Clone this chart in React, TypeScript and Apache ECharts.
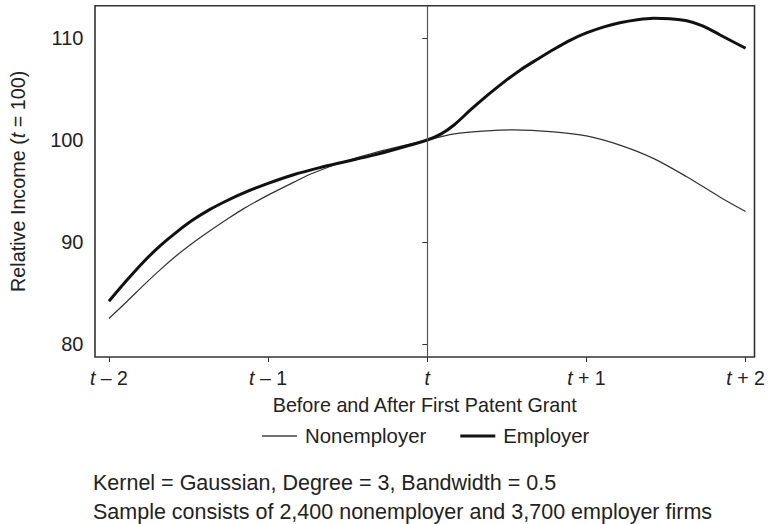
import React, { useEffect, useRef } from "react";
import * as echarts from "echarts";

const xTicks = [-2, -1, 0, 1, 2];
const yTicks = [80, 90, 100, 110];

const employer: [number, number][] = [
  [-2.0, 84.2], [-1.885, 86.3], [-1.78, 88.1], [-1.677, 89.65], [-1.573, 91.0],
  [-1.469, 92.2], [-1.365, 93.2], [-1.26, 94.05], [-1.156, 94.8], [-1.0, 95.75],
  [-0.84, 96.6], [-0.675, 97.3], [-0.51, 97.9], [-0.344, 98.5], [-0.177, 99.2],
  [0, 100], [0.0875, 100.6], [0.17, 101.5], [0.275, 103.0], [0.379, 104.4],
  [0.483, 105.7], [0.588, 106.9], [0.69, 107.9], [0.796, 108.9], [0.9, 109.8],
  [1.0, 110.5], [1.11, 111.1], [1.21, 111.5], [1.32, 111.8], [1.42, 111.95],
  [1.525, 111.9], [1.63, 111.7], [1.73, 111.2], [1.84, 110.3], [2.0, 109.0],
];

const nonemployer: [number, number][] = [
  [-2.0, 82.5], [-1.885, 84.2], [-1.78, 85.8], [-1.677, 87.3], [-1.573, 88.7],
  [-1.469, 89.95], [-1.365, 91.1], [-1.26, 92.2], [-1.156, 93.25], [-1.0, 94.6],
  [-0.84, 95.85], [-0.72, 96.75], [-0.51, 97.95], [-0.344, 98.7], [-0.177, 99.35],
  [0, 100], [0.17, 100.6], [0.379, 100.9], [0.546, 101.0], [0.796, 100.8],
  [1.0, 100.4], [1.21, 99.5], [1.42, 98.2], [1.63, 96.4], [1.84, 94.4], [2.0, 93.0],
];

const footnotes = [
  "Kernel = Gaussian, Degree = 3, Bandwidth = 0.5",
  "Sample consists of 2,400 nonemployer and 3,700 employer firms",
];

const FONT = "'Liberation Sans', Arial, sans-serif";
const TXT = "#222";

export default function App() {
  const ref = useRef<HTMLDivElement>(null);
  useEffect(() => {
    if (!ref.current) return;
    const chart = echarts.init(ref.current, undefined, { renderer: "svg" });
    const xLabel = (v: number) => {
      if (v === 0) return "{i|t}";
      return "{i|t}{n| " + (v < 0 ? "–" : "+") + " " + Math.abs(v) + "}";
    };
    chart.setOption({
      animation: false,
      textStyle: { fontFamily: FONT },
      grid: {
        left: 91.5,
        right: 14.5,
        top: 5.7,
        bottom: 167,
        show: true,
        borderColor: "#333",
        borderWidth: 1.6,
        backgroundColor: "transparent",
      },
      xAxis: {
        type: "value",
        min: -2.0875,
        max: 2.056,
        axisLine: { show: false },
        splitLine: { show: false },
        axisTick: { show: true, length: 5, customValues: xTicks, lineStyle: { color: "#333", width: 1 } },
        axisLabel: {
          customValues: xTicks,
          margin: 11,
          formatter: xLabel,
          color: TXT,
          fontSize: 19.5,
          fontFamily: FONT,
          rich: {
            i: { fontStyle: "italic", fontSize: 19.5, color: TXT, fontFamily: FONT },
            n: { fontSize: 19.5, color: TXT, fontFamily: FONT },
          },
        },
        name: "Before and After First Patent Grant",
        nameLocation: "middle",
        nameGap: 38,
        nameTextStyle: { color: TXT, fontSize: 19.75, fontFamily: FONT },
      },
      yAxis: {
        type: "value",
        min: 78.73,
        max: 113.17,
        axisLine: { show: false },
        splitLine: { show: false },
        axisTick: { show: true, length: 5, customValues: yTicks, lineStyle: { color: "#333", width: 1 } },
        axisLabel: {
          customValues: yTicks,
          margin: 11.5,
          color: TXT,
          fontSize: 20,
          fontFamily: FONT,
        },
        name: "{a|Relative Income (}{i|t}{a| = 100)}",
        nameLocation: "middle",
        nameGap: 67,
        nameTextStyle: {
          color: TXT,
          fontSize: 19.75,
          fontFamily: FONT,
          rich: {
            a: { fontSize: 19.75, color: TXT, fontFamily: FONT },
            i: { fontSize: 19.75, color: TXT, fontFamily: FONT, fontStyle: "italic" },
          },
        },
      },
      legend: {
        top: 421,
        left: 257,
        itemWidth: 35,
        itemHeight: 14,
        itemGap: 34,
        textStyle: { color: TXT, fontSize: 20.4, fontFamily: FONT, padding: [0, 0, 0, 3] },
        data: [
          { name: "Nonemployer", icon: "path://M0,0H35V1.4H0Z", itemStyle: { color: "#444", borderWidth: 0 } },
          { name: "Employer", icon: "path://M0,0H35V3.2H0Z", itemStyle: { color: "#111", borderWidth: 0 } },
        ],
      },
      series: [
        {
          name: "Nonemployer",
          type: "line",
          data: nonemployer,
          smooth: 0.3,
          showSymbol: false,
          symbol: "none",
          lineStyle: { color: "#333", width: 1.2 },
          itemStyle: { color: "#333" },
          markLine: {
            silent: true,
            symbol: "none",
            label: { show: false },
            lineStyle: { color: "#555", width: 1.2, type: "solid" },
            data: [{ xAxis: 0 }],
          },
        },
        {
          name: "Employer",
          type: "line",
          data: employer,
          smooth: 0.3,
          showSymbol: false,
          symbol: "none",
          lineStyle: { color: "#111", width: 3 },
          itemStyle: { color: "#111" },
        },
      ],
      graphic: footnotes.map((t, i) => ({
        type: "text",
        left: 93,
        top: 472 + i * 29,
        style: { text: t, fill: TXT, fontSize: 21.5, fontFamily: FONT },
      })),
    });
    return () => chart.dispose();
  }, []);
  return (
    <div
      ref={ref}
      style={{ position: "absolute", left: 0, top: 0, width: 769, height: 524 }}
    />
  );
}
